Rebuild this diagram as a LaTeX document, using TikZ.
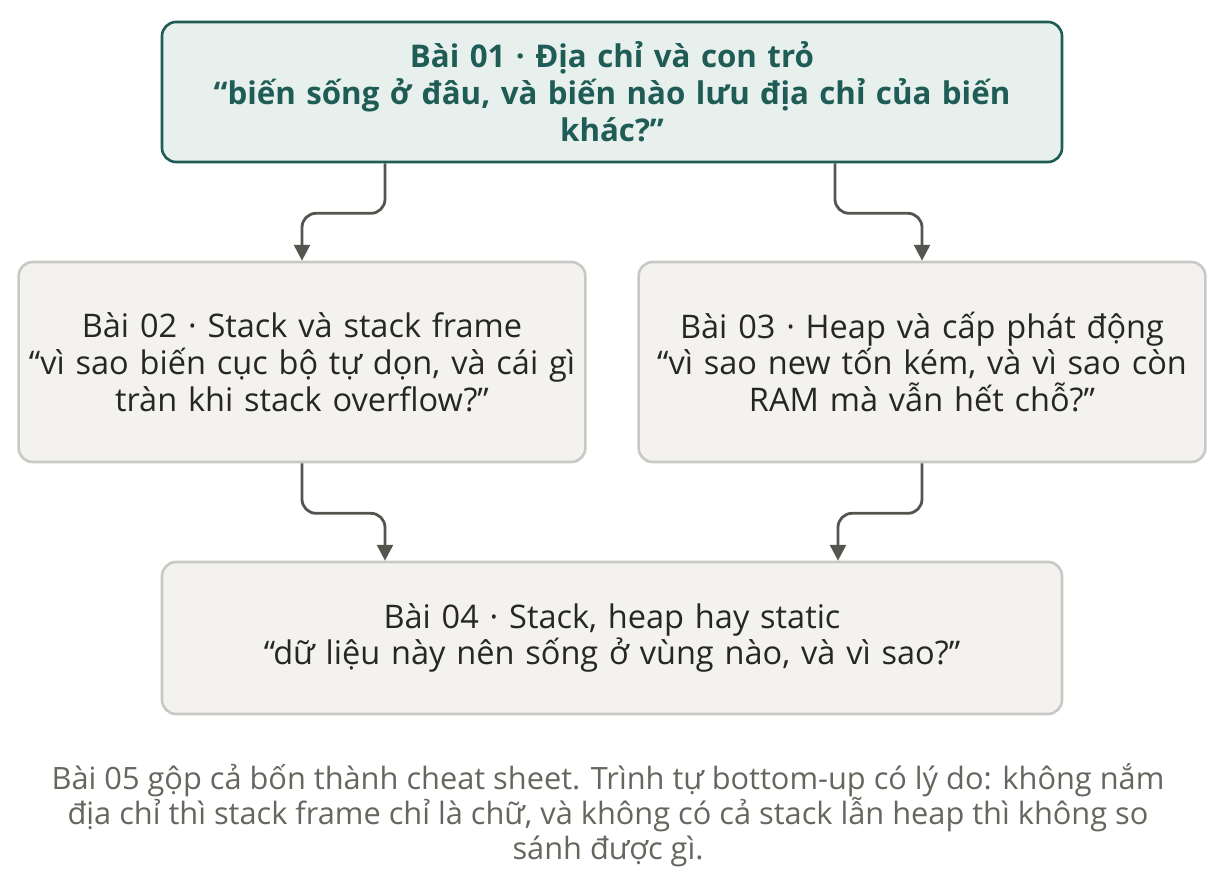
\documentclass[tikz,border=0pt]{standalone}
\usepackage{fontspec}
\setmainfont{Open Sans}
\usetikzlibrary{positioning, arrows.meta}
\definecolor{teal1}{HTML}{1F5C55}
\definecolor{tealbg}{HTML}{E8F0EE}
\definecolor{boxbg}{HTML}{F3F2EE}
\definecolor{boxline}{HTML}{C8C8C4}
\definecolor{arrowc}{HTML}{555550}
\definecolor{capc}{HTML}{66665F}
\tikzset{
  lesson/.style={draw=boxline, fill=boxbg, line width=1.5pt, rounded corners=8pt,
    align=center, font=\fontsize{18.5}{21}\selectfont, text=black!85},
  main/.style={lesson, draw=teal1, fill=tealbg, text=teal1, font=\fontsize{17.8}{21}\selectfont\bfseries},
  flow/.style={draw=arrowc, line width=1.6pt, rounded corners=8pt, -{Triangle[length=9pt,width=9pt]}}
}
\begin{document}
\begin{tikzpicture}
\useasboundingbox (0,0) rectangle (24.32,17.72);
%%%% lessons
\node[main, minimum width=18cm, minimum height=2.8cm, text width=17.6cm] (b1) at (12.24,15.88)
  {Bài 01 · Địa chỉ và con trỏ\\“biến sống ở đâu, và biến nào lưu địa chỉ của biến\\khác?”};
\node[lesson, minimum width=11.2cm, minimum height=4cm, text width=11.1cm] (b2) at (6.04,10.48)
  {Bài 02 · Stack và stack frame\\“vì sao biến cục bộ tự dọn, và cái gì\\tràn khi stack overflow?”};
\node[lesson, minimum width=11.2cm, minimum height=4cm, text width=11.1cm] (b3) at (18.44,10.48)
  {Bài 03 · Heap và cấp phát động\\“vì sao new tốn kém, và vì sao còn\\RAM mà vẫn hết chỗ?”};
\node[lesson, minimum width=18cm, minimum height=3.04cm, text width=17.6cm] (b4) at (12.24,4.96)
  {Bài 04 · Stack, heap hay static\\“dữ liệu này nên sống ở vùng nào, và vì sao?”};
%%%% arrows
\draw[flow] ([xshift=-4.54cm]b1.south) -- ++(0,-1cm) -| (b2.north);
\draw[flow] ([xshift=4.46cm]b1.south) -- ++(0,-1cm) -| (b3.north);
\draw[flow] (b2.south) -- ++(0,-1cm) -| ([xshift=-4.54cm]b4.north);
\draw[flow] (b3.south) -- ++(0,-1cm) -| ([xshift=4.52cm]b4.north);
%%%% caption
\node[align=center, text=capc, font=\fontsize{17.5}{20}\selectfont] (note) at (12.16,1.42)
  {Bài 05 gộp cả bốn thành cheat sheet. Trình tự bottom-up có lý do: không nắm\\địa chỉ thì stack frame chỉ là chữ, và không có cả stack lẫn heap thì không so\\sánh được gì.};
\end{tikzpicture}
\end{document}
